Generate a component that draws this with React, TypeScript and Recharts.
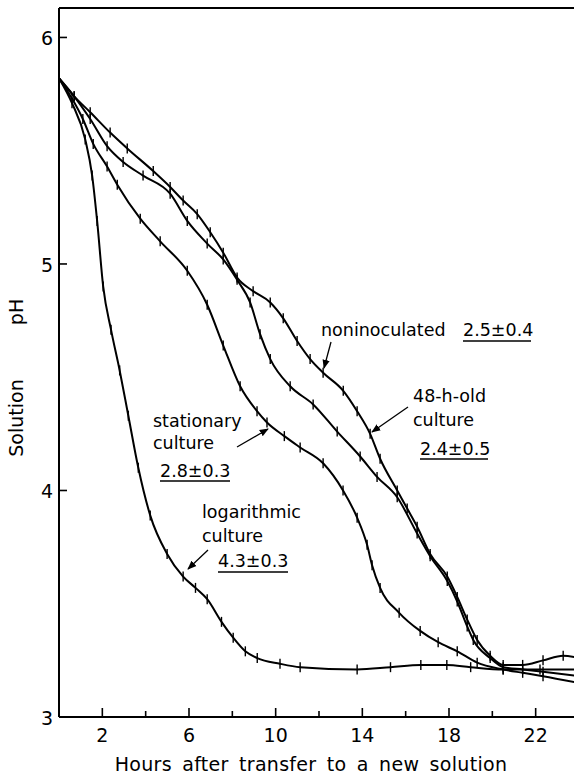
import { LineChart, Line, XAxis, YAxis, ReferenceLine } from 'recharts';

const FONT = "'DejaVu Sans', sans-serif";

// axis ticks
const HOUR_TICKS = [2, 4, 6, 8, 10, 12, 14, 16, 18, 20, 22];
const HOUR_LABELS = [2, 6, 10, 14, 18, 22];
const PH_TICKS = [3, 4, 5, 6];
const PH_TOP = 6.13;

// noninoculated
const nonHours = [0, 0.7, 1.44, 2.36, 3.15, 4.35, 5.13, 5.73, 6.38, 6.98, 7.58, 8.22, 8.96, 9.75, 10.35, 10.99, 11.59, 12.19, 13.12, 13.76, 14.36, 14.82, 15.61, 16.07, 16.53, 17.13, 17.92, 18.38, 18.84, 19.3, 19.9, 20.5, 21.4, 22.34, 23.27, 24];
const nonPH = [5.82, 5.74, 5.67, 5.58, 5.51, 5.41, 5.34, 5.28, 5.22, 5.14, 5.05, 4.94, 4.88, 4.83, 4.76, 4.66, 4.58, 4.52, 4.44, 4.35, 4.25, 4.14, 4.0, 3.92, 3.84, 3.72, 3.62, 3.53, 3.43, 3.34, 3.27, 3.23, 3.23, 3.25, 3.27, 3.26];

// 48-h-old culture
const oldHours = [0, 0.7, 1.44, 2.22, 2.96, 3.88, 5.13, 5.92, 6.84, 7.58, 8.22, 8.82, 9.28, 9.75, 10.67, 11.73, 12.84, 13.9, 14.68, 15.61, 16.53, 17.13, 17.92, 18.38, 18.84, 19.12, 19.9, 20.5, 21.4, 22.34, 24];
const oldPH = [5.82, 5.74, 5.64, 5.52, 5.45, 5.39, 5.31, 5.19, 5.09, 5.02, 4.93, 4.83, 4.69, 4.58, 4.46, 4.38, 4.26, 4.15, 4.06, 3.97, 3.81, 3.71, 3.6, 3.51, 3.4, 3.34, 3.26, 3.22, 3.21, 3.2, 3.18];

// stationary culture
const statHours = [0, 0.6, 1.1, 1.58, 2.22, 2.69, 3.75, 4.67, 5.92, 6.84, 7.58, 8.36, 9.14, 9.6, 10.4, 11.13, 12.19, 13.11, 13.76, 14.22, 14.45, 14.82, 15.7, 16.67, 17.5, 18.38, 19.3, 20.5, 21.4, 22.34, 24];
const statPH = [5.82, 5.73, 5.64, 5.53, 5.43, 5.35, 5.2, 5.1, 4.97, 4.82, 4.64, 4.46, 4.35, 4.3, 4.24, 4.19, 4.12, 4.0, 3.88, 3.76, 3.67, 3.57, 3.46, 3.38, 3.33, 3.29, 3.24, 3.21, 3.195, 3.18, 3.15];

// logarithmic culture
const logHours = [0, 0.6, 1.21, 1.53, 1.76, 2.04, 2.4, 2.8, 3.2, 3.66, 4.21, 4.99, 5.73, 6.3, 6.84, 7.5, 8.04, 8.6, 9.15, 10.2, 11.13, 13.76, 15.3, 16.7, 17.9, 19.0, 20.5, 22.2, 24];
const logPH = [5.82, 5.71, 5.55, 5.39, 5.19, 4.9, 4.71, 4.53, 4.33, 4.1, 3.89, 3.72, 3.62, 3.57, 3.52, 3.42, 3.35, 3.29, 3.26, 3.235, 3.22, 3.21, 3.22, 3.23, 3.23, 3.22, 3.21, 3.21, 3.21];

const rows = (hours: number[], ph: number[]) => hours.map((h, i) => ({ hour: h, ph: ph[i] }));

const SERIES = [
  { name: 'noninoculated', data: rows(nonHours, nonPH) },
  { name: '48-h-old culture', data: rows(oldHours, oldPH) },
  { name: 'stationary culture', data: rows(statHours, statPH) },
  { name: 'logarithmic culture', data: rows(logHours, logPH) },
];

// eslint-disable-next-line @typescript-eslint/no-explicit-any
const HourTick = ({ x, y, payload }: any) => {
  const major = HOUR_LABELS.includes(payload.value);
  return (
    <g>
      <line x1={x} y1={y} x2={x} y2={y - (major ? 9 : 6)} stroke="#000" strokeWidth={1.6} />
      {major && (
        <text x={x} y={y + 25} textAnchor="middle" fontSize={19} fontFamily={FONT} fill="#000">
          {payload.value}
        </text>
      )}
    </g>
  );
};

// eslint-disable-next-line @typescript-eslint/no-explicit-any
const PhTick = ({ x, y, payload }: any) => (
  <g>
    <line x1={x} y1={y} x2={x + 8} y2={y} stroke="#000" strokeWidth={1.6} />
    <text x={x - 6} y={y + 8} textAnchor="end" fontSize={19} fontFamily={FONT} fill="#000">
      {payload.value}
    </text>
  </g>
);

// small vertical bar at each reading
// eslint-disable-next-line @typescript-eslint/no-explicit-any
const ErrTick = ({ cx, cy, index }: any) =>
  cx == null ? null : (
    <line key={index} x1={cx} x2={cx} y1={cy - 5} y2={cy + 5} stroke="#000" strokeWidth={1.4} />
  );

const label = { fontSize: 17.5, fontFamily: FONT, fill: '#000' };

export default function App() {
  return (
    <div style={{ position: 'absolute', left: 0, top: 0, width: 574, height: 775, overflow: 'hidden', background: '#fff' }}>
      <LineChart width={580} height={775} margin={{ top: 8, right: 1, bottom: 0, left: 0 }}>
        <XAxis
          dataKey="hour"
          type="number"
          domain={[0, 24]}
          ticks={HOUR_TICKS}
          allowDataOverflow
          height={58}
          tickSize={0}
          tickMargin={0}
          tick={<HourTick />}
          axisLine={{ stroke: '#000', strokeWidth: 2 }}
          tickLine={false}
        />
        <YAxis
          type="number"
          domain={[3, PH_TOP]}
          ticks={PH_TICKS}
          allowDataOverflow
          width={59}
          tickSize={0}
          tickMargin={0}
          tick={<PhTick />}
          axisLine={{ stroke: '#000', strokeWidth: 2 }}
          tickLine={false}
        />
        <ReferenceLine y={PH_TOP} stroke="#000" strokeWidth={2} />
        {SERIES.map((s) => (
          <Line
            key={s.name}
            data={s.data}
            dataKey="ph"
            name={s.name}
            type="monotone"
            stroke="#000"
            strokeWidth={2}
            dot={<ErrTick />}
            activeDot={false}
            isAnimationActive={false}
          />
        ))}
      </LineChart>

      <svg width={574} height={775} style={{ position: 'absolute', left: 0, top: 0, pointerEvents: 'none' }}>
        <defs>
          <marker id="head" viewBox="0 0 10 10" refX="9" refY="5" markerWidth="7" markerHeight="7" orient="auto">
            <path d="M0,1 L10,5 L0,9 z" fill="#000" />
          </marker>
        </defs>

        {/* noninoculated */}
        <text x={321} y={336} {...label}>noninoculated</text>
        <text x={463} y={336} {...label}>2.5±0.4</text>
        <line x1={463} x2={531} y1={341} y2={341} stroke="#000" strokeWidth={1.3} />
        <line x1={331} y1={342} x2={324} y2={368} stroke="#000" strokeWidth={1.3} markerEnd="url(#head)" />

        {/* 48-h-old culture */}
        <text x={413} y={402} {...label}>48-h-old</text>
        <text x={413} y={426} {...label}>culture</text>
        <text x={420} y={455} {...label}>2.4±0.5</text>
        <line x1={420} x2={488} y1={459} y2={459} stroke="#000" strokeWidth={1.3} />
        <line x1={408} y1={407} x2={372} y2={432} stroke="#000" strokeWidth={1.3} markerEnd="url(#head)" />

        {/* stationary culture */}
        <text x={153} y={427} {...label}>stationary</text>
        <text x={153} y={449} {...label}>culture</text>
        <text x={160} y={477} {...label}>2.8±0.3</text>
        <line x1={160} x2={230} y1={481} y2={481} stroke="#000" strokeWidth={1.3} />
        <line x1={237} y1={447} x2={268} y2={429} stroke="#000" strokeWidth={1.3} markerEnd="url(#head)" />

        {/* logarithmic culture */}
        <text x={202} y={518} {...label}>logarithmic</text>
        <text x={202} y={542} {...label}>culture</text>
        <text x={218} y={567} {...label}>4.3±0.3</text>
        <line x1={218} x2={288} y1={572} y2={572} stroke="#000" strokeWidth={1.3} />
        <line x1={208} y1={550} x2={188} y2={569} stroke="#000" strokeWidth={1.3} markerEnd="url(#head)" />

        {/* axis titles */}
        <text x={311} y={771} textAnchor="middle" fontSize={19} fontFamily={FONT} letterSpacing={0.3} wordSpacing={4}>
          Hours after transfer to a new solution
        </text>
        <text transform="translate(23,418) rotate(-90)" textAnchor="middle" fontSize={19} fontFamily={FONT}>Solution</text>
        <text transform="translate(23,312) rotate(-90)" textAnchor="middle" fontSize={19} fontFamily={FONT}>pH</text>
      </svg>
    </div>
  );
}
